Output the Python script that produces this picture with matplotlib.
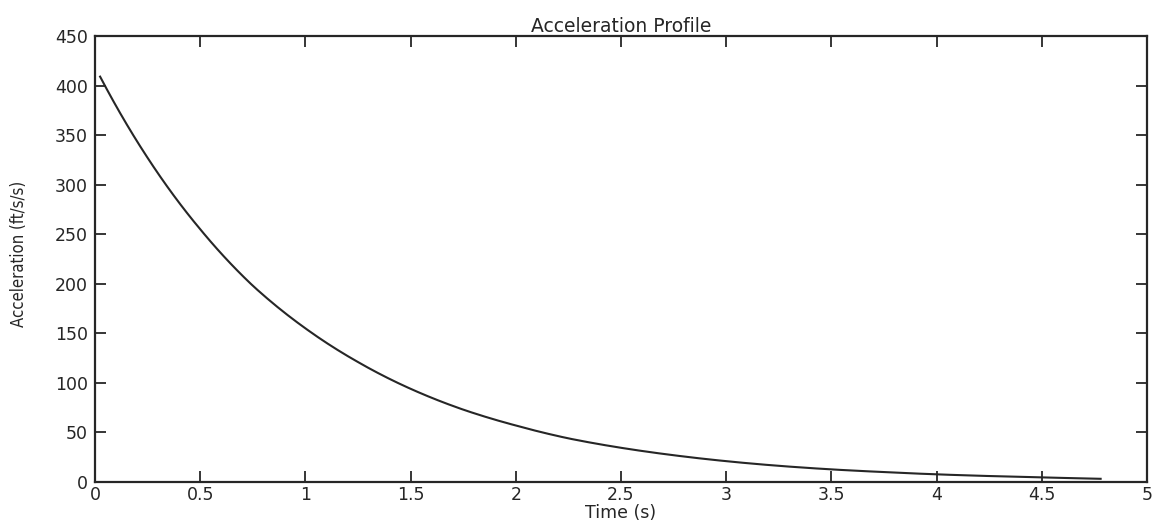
import matplotlib
matplotlib.use('Agg')
import matplotlib.pyplot as plt
import numpy as np

# values
time_s = [0.024, 0.25, 0.5, 0.75, 1.0, 1.25, 1.5, 1.75, 2.0, 2.25, 2.5,
          2.75, 3.0, 3.25, 3.5, 3.75, 4.0, 4.25, 4.5, 4.78]
accel = [409, 327, 255, 198, 155, 121, 94, 73, 57, 44, 34.5,
         27, 21, 16.3, 12.7, 10, 7.7, 6, 4.7, 3.2]

x_ticks = [0, 0.5, 1, 1.5, 2, 2.5, 3, 3.5, 4, 4.5, 5]
x_tick_labels = ['0', '0.5', '1', '1.5', '2', '2.5', '3', '3.5', '4', '4.5', '5']
y_ticks = [0, 50, 100, 150, 200, 250, 300, 350, 400, 450]

ink = '#262626'
plt.rcParams['font.family'] = ['DejaVu Sans']

fig = plt.figure(figsize=(11.55, 5.21), dpi=100)
ax = fig.add_axes([0.0823, 0.0749, 0.9107, 0.8560])

# smooth the read points a bit on a log scale (curve is close to exponential)
t_fine = np.linspace(time_s[0], time_s[-1], 300)
a_fine = np.exp(np.interp(t_fine, time_s, np.log(accel)))
ax.plot(t_fine, a_fine, color=ink, linewidth=1.5)

ax.set_xlim(0, 5)
ax.set_ylim(0, 450)
ax.set_xticks(x_ticks)
ax.set_xticklabels(x_tick_labels)
ax.set_yticks(y_ticks)

ax.tick_params(direction='in', length=8, width=1.3, colors=ink,
               top=True, right=True, labelsize=12.5, pad=5)
ax.tick_params(axis='x', pad=3)
for sp in ax.spines.values():
    sp.set_linewidth(1.6)
    sp.set_color(ink)

ax.set_title('Acceleration Profile', fontsize=13.5, color=ink, pad=3)
ax.set_xlabel('Time (s)', fontsize=12.5, color=ink, labelpad=0)
ax.set_ylabel('Acceleration (ft/s/s)', fontsize=12, color=ink,
              family='DejaVu Sans', stretch='condensed')
ax.yaxis.set_label_coords(-0.064, 0.511)

fig.savefig('out.png', dpi=100)
